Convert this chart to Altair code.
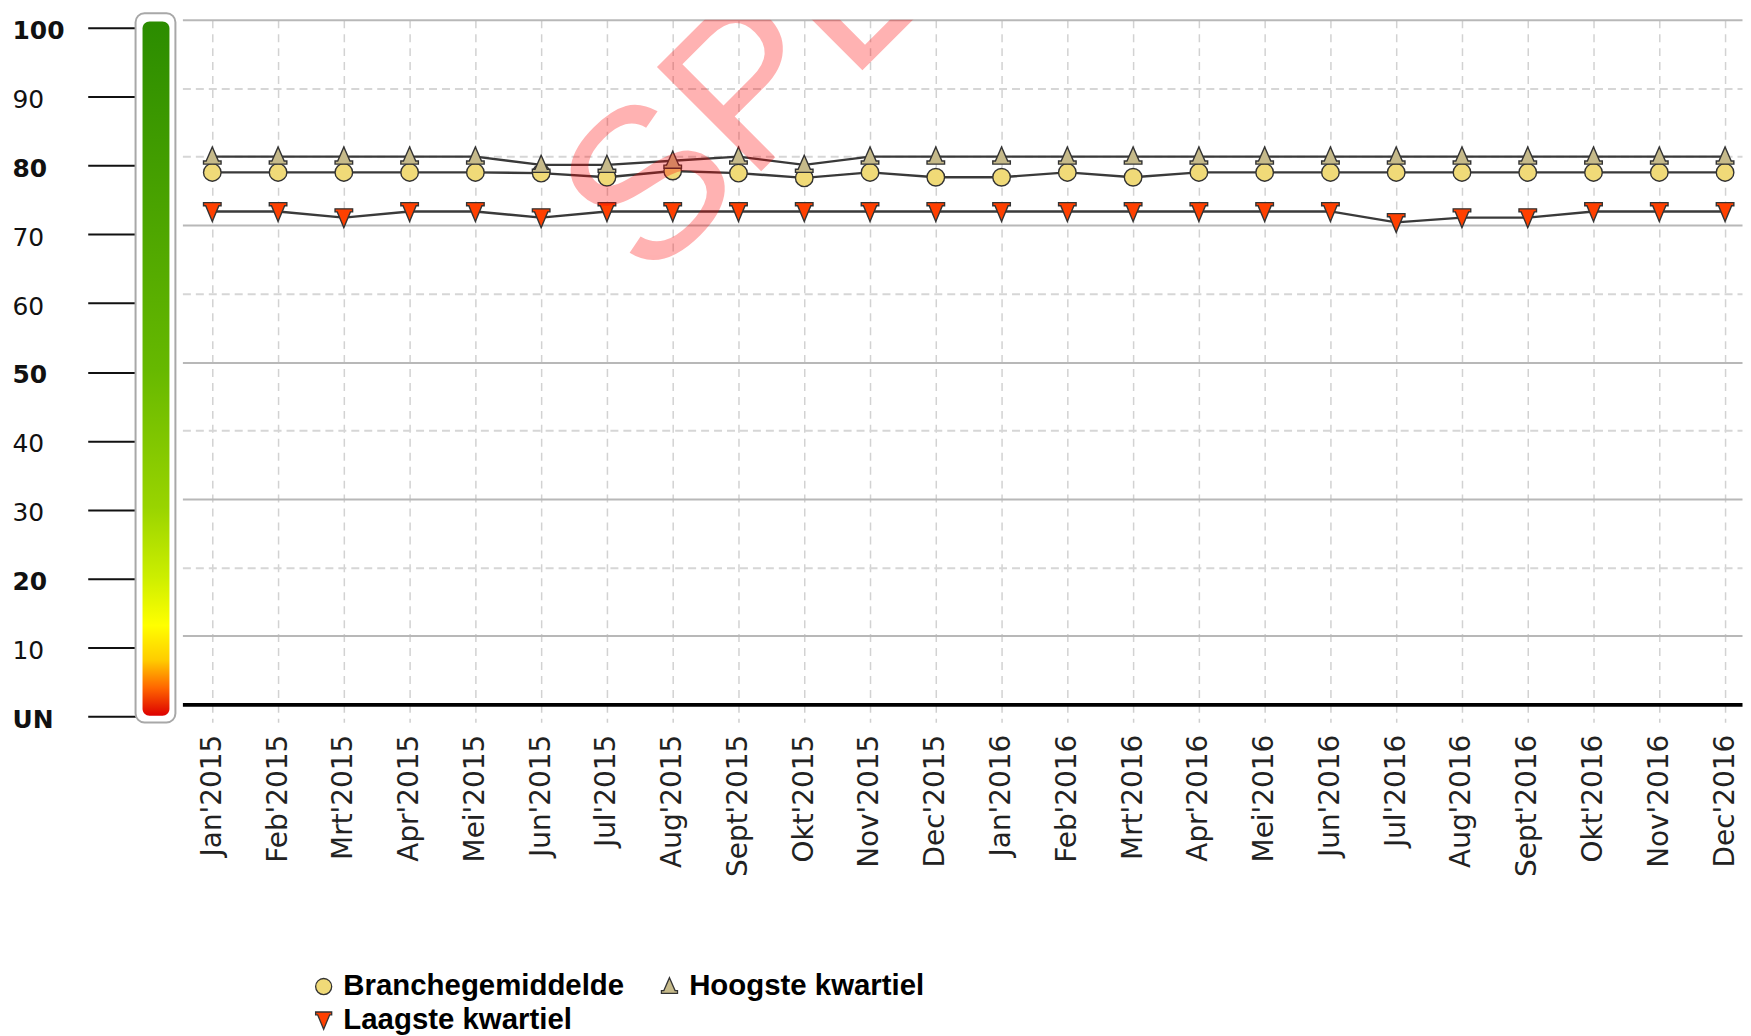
import json
import altair as alt
import pandas as pd

# ---------------- data ----------------
months = ["Jan'2015", "Feb'2015", "Mrt'2015", "Apr'2015", "Mei'2015", "Jun'2015",
          "Jul'2015", "Aug'2015", "Sept'2015", "Okt'2015", "Nov'2015", "Dec'2015",
          "Jan'2016", "Feb'2016", "Mrt'2016", "Apr'2016", "Mei'2016", "Jun'2016",
          "Jul'2016", "Aug'2016", "Sept'2016", "Okt'2016", "Nov'2016", "Dec'2016"]

branche = [77.7, 77.7, 77.7, 77.7, 77.7, 77.6, 77.0, 77.9, 77.6, 76.9, 77.7, 77.0,
           77.0, 77.7, 77.0, 77.7, 77.7, 77.7, 77.7, 77.7, 77.7, 77.7, 77.7, 77.7]
hoogste = [80.0, 80.0, 80.0, 80.0, 80.0, 78.8, 78.8, 79.4, 80.0, 78.8, 80.0, 80.0,
           80.0, 80.0, 80.0, 80.0, 80.0, 80.0, 80.0, 80.0, 80.0, 80.0, 80.0, 80.0]
laagste = [72.0, 72.0, 71.1, 72.0, 72.0, 71.1, 72.0, 72.0, 72.0, 72.0, 72.0, 72.0,
           72.0, 72.0, 72.0, 72.0, 72.0, 72.0, 70.4, 71.1, 71.1, 72.0, 72.0, 72.0]

series_names = ["Branchegemiddelde", "Hoogste kwartiel", "Laagste kwartiel"]
series_fill = ["#f0da78", "#c6ba8a", "#ff4000"]
series_stroke = ["#333333", "#333333", "#333333"]

gauge_ticks = [0, 10, 20, 30, 40, 50, 60, 70, 80, 90, 100]
gauge_bold = [0, 20, 50, 80, 100]
grid_values = [10, 20, 30, 40, 50, 60, 70, 80, 90, 100]
grid_dashed = [20, 40, 60, 80, 90]
watermark = ["SPE"]

# ---------------- styling constants ----------------
HOOG_PATH = "M0,-1.1L0.7,0.5L1,0.5L1,0.85L-1,0.85L-1,0.5L-0.7,0.5Z"
LAAG_PATH = "M-1,-1L1,-1L1,-0.65L0.75,-0.65L0,1.15L-0.75,-0.65L-1,-0.65Z"
series_shape = ["circle", HOOG_PATH, LAAG_PATH]

STEP = 66.0
MAIN_W = 1565
MAIN_H = 687
x_lo = -30.0 / STEP
x_hi = x_lo + MAIN_W / STEP

rows = []
for i, m in enumerate(months):
    for name, vals in zip(series_names, [branche, hoogste, laagste]):
        rows.append({"idx": i, "month": m, "series": name, "value": vals[i]})
df = pd.DataFrame(rows)

label_expr = json.dumps(months) + "[datum.value]"

x_enc = alt.X(
    "idx:Q",
    scale=alt.Scale(domain=[x_lo, x_hi], nice=False, zero=False),
    axis=alt.Axis(
        values=list(range(len(months))), labelExpr=label_expr, title=None,
        labelAngle=270, labelFont="DejaVu Sans", labelFontSize=28, labelColor="#222",
        labelPadding=12, tickSize=18, tickColor="#cfcfcf", tickWidth=1.5, tickDash=[8, 6],
        grid=True, gridColor="#d2d2d2", gridWidth=1.5, gridDash=[8, 6],
        domainColor="#000", domainWidth=4,
    ),
)
y_enc = alt.Y(
    "value:Q",
    scale=alt.Scale(domain=[0, 100], nice=False),
    axis=alt.Axis(
        values=grid_values, labels=False, ticks=False, domain=False, title=None,
        grid=True, gridWidth=2,
        gridDash={"condition": {"test": "indexof(" + json.dumps(grid_dashed) + ", datum.value) >= 0",
                                "value": [8, 5]}, "value": []},
        gridColor={"condition": {"test": "indexof(" + json.dumps(grid_dashed) + ", datum.value) >= 0",
                                 "value": "#d6d6d6"}, "value": "#b8b8b8"},
    ),
)

base = alt.Chart(df)

lines = base.mark_line(color="#3a3a3a", strokeWidth=2.4).encode(
    x=x_enc, y=y_enc, detail="series:N", order="idx:Q"
)

legend = alt.Legend(
    title=None, orient="none", legendX=174, legendY=955, columns=2, direction="horizontal",
    labelFont="Liberation Sans", labelFontSize=29.5, labelFontWeight="bold", labelColor="#000",
    labelLimit=0, labelOffset=5, columnPadding=30, rowPadding=3,
    symbolSize=260, symbolStrokeWidth=1.3, padding=0,
)

points = base.mark_point(filled=True, strokeWidth=1.4, opacity=1, size=310).encode(
    x=x_enc, y=y_enc,
    fill=alt.Fill("series:N", scale=alt.Scale(domain=series_names, range=series_fill), legend=legend),
    stroke=alt.Stroke("series:N", scale=alt.Scale(domain=series_names, range=series_stroke), legend=legend),
    shape=alt.Shape("series:N", scale=alt.Scale(domain=series_names, range=series_shape), legend=legend),
)

wm = alt.Chart(pd.DataFrame({"t": watermark})).mark_text(
    font="Liberation Sans", fontSize=215, fontWeight="normal", color="#ff0000", opacity=0.3,
    angle=315, align="left", baseline="alphabetic", clip=True,
).encode(text="t:N", x=alt.value(467), y=alt.value(266))

main = alt.layer(lines, points, wm).properties(width=MAIN_W, height=MAIN_H)

# ---------------- gauge ----------------
GAUGE_H = 699
gauge_top = 100 + (GAUGE_H - 691) / 6.91
gdf = pd.DataFrame({"flo": [-0.9], "fhi": [102.1], "blo": [0.1], "bhi": [100.9]})

gauge_y = alt.Y(
    "flo:Q", scale=alt.Scale(domain=[0, gauge_top], nice=False, zero=False),
    axis=alt.Axis(
        values=gauge_ticks, title=None, domain=False, grid=False,
        labelExpr="datum.value == 0 ? 'UN' : datum.label",
        labelFontWeight={"condition": {"test": "indexof(" + json.dumps(gauge_bold) + ", datum.value) >= 0",
                                       "value": "bold"}, "value": "normal"},
        labelAlign="left", labelBaseline="middle", labelPadding=76, labelOffset=3,
        labelFont="DejaVu Sans", labelFontSize=25, labelColor="#111",
        tickSize=48, tickWidth=2, tickColor="#111",
    ),
)

frame = alt.Chart(gdf).mark_rect(fill="white", stroke="#a8a8a8", strokeWidth=2, cornerRadius=9).encode(
    x=alt.value(0), x2=alt.value(40), y=gauge_y, y2="fhi:Q"
)
gradient = {
    "gradient": "linear", "x1": 0, "y1": 0, "x2": 0, "y2": 1,
    "stops": [
        {"offset": 0.0, "color": "#2b8c00"},
        {"offset": 0.3, "color": "#4ea600"},
        {"offset": 0.5, "color": "#66b800"},
        {"offset": 0.7, "color": "#99d400"},
        {"offset": 0.8, "color": "#ccee00"},
        {"offset": 0.87, "color": "#ffff00"},
        {"offset": 0.92, "color": "#ffcc00"},
        {"offset": 0.96, "color": "#ff6600"},
        {"offset": 1.0, "color": "#dd0000"},
    ],
}
bar = alt.Chart(gdf).mark_rect(fill=gradient, cornerRadius=7).encode(
    x=alt.value(7), x2=alt.value(34), y="blo:Q", y2="bhi:Q"
)
gauge = alt.layer(frame, bar).properties(width=40, height=GAUGE_H)

chart = alt.hconcat(gauge, main, spacing=7, bounds="flush").properties(
    padding={"left": 3, "top": 1, "right": 0, "bottom": 0}
).configure_view(stroke="transparent")

chart.save("out.html", embed_options={"renderer": "svg", "actions": False})
